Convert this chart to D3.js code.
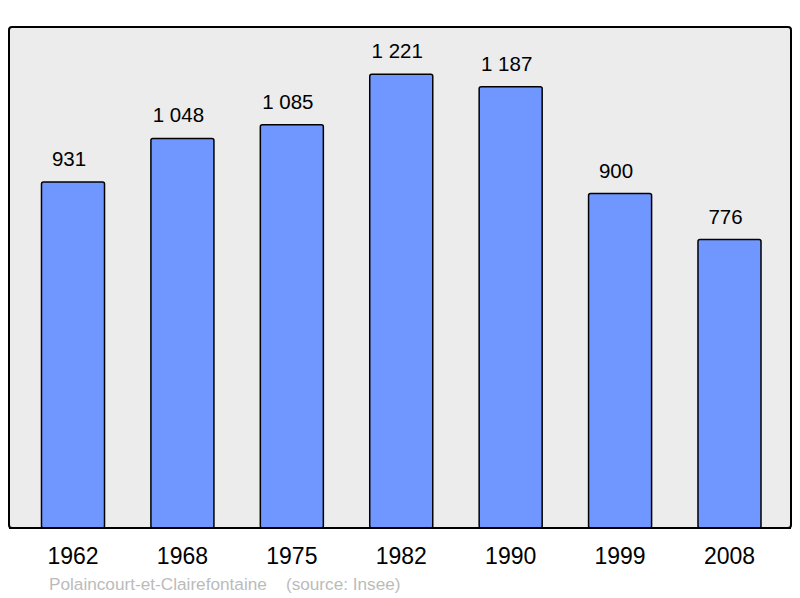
<!DOCTYPE html>
<html><head><meta charset="utf-8">
<script src="https://cdn.jsdelivr.net/npm/d3@7"></script>
<style>body{margin:0;background:#fff}svg{display:block;font-family:"Liberation Sans",Arial,sans-serif}</style>
</head><body>
<script>
const years = ["1962","1968","1975","1982","1990","1999","2008"];
const population = [931,1048,1085,1221,1187,900,776];
const valueLabels = ["931","1 048","1 085","1 221","1 187","900","776"];
const footer = "Polaincourt-et-Clairefontaine    (source: Insee)";

const W = 800, H = 598;
const svg = d3.select("body").append("svg").attr("width", W).attr("height", H);
const panel = {x0: 9, y0: 27, x1: 791, y1: 528};

svg.append("rect").attr("x", panel.x0).attr("y", panel.y0)
  .attr("width", panel.x1 - panel.x0).attr("height", panel.y1 - panel.y0)
  .attr("rx", 3).attr("fill", "#ececec").attr("stroke", "#000").attr("stroke-width", 2);

const x = d3.scaleBand().domain(years).range([18.3, 784.2]).paddingInner(0.424).paddingOuter(0.212);
const y = d3.scaleLinear().domain([0, 1348]).range([panel.y1, panel.y0]);

const g = svg.append("g");
g.selectAll("rect.bar").data(years).join("rect").attr("class","bar")
  .attr("x", d => x(d)).attr("width", x.bandwidth())
  .attr("y", (d,i) => y(population[i])).attr("height", (d,i) => y(0) - y(population[i]))
  .attr("rx", 2).attr("fill", "#7097ff").attr("stroke", "#000").attr("stroke-width", 1.5);

g.selectAll("text.val").data(years).join("text").attr("class","val")
  .attr("x", d => x(d) + x.bandwidth()/2 - 4).attr("y", (d,i) => y(population[i]) - 16)
  .attr("text-anchor","middle").attr("font-size", 20.5).attr("fill","#000")
  .text((d,i) => valueLabels[i]);

svg.append("line").attr("x1", panel.x0).attr("x2", panel.x1).attr("y1", panel.y1).attr("y2", panel.y1)
  .attr("stroke","#000").attr("stroke-width",2);

const xAxis = d3.axisBottom(x).tickSize(0).tickPadding(0);
const ax = svg.append("g").attr("transform", `translate(0,${panel.y1})`).call(xAxis);
ax.select(".domain").remove();
ax.selectAll("text").attr("dy", null).attr("y", 36).attr("font-size", 23)
  .attr("font-family", '"Liberation Sans",Arial,sans-serif').attr("fill","#000");

svg.append("text").attr("x", 49).attr("y", 590).attr("font-size", 17.2).attr("fill","#bbbbbb")
  .attr("xml:space","preserve").style("white-space","pre").text(footer);
</script>
</body></html>
